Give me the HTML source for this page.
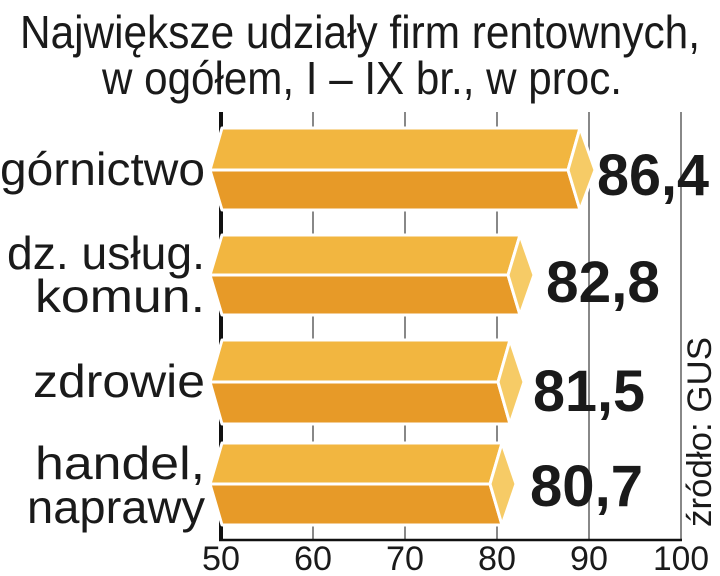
<!DOCTYPE html>
<html><head><meta charset="utf-8"><style>
html,body{margin:0;padding:0;background:#fff;}
svg{display:block;}
text{font-family:"Liberation Sans",sans-serif;fill:#1a1a1a;}
</style></head><body>
<svg width="720" height="576" viewBox="0 0 720 576" xmlns="http://www.w3.org/2000/svg">
<text x="360" y="48" font-size="46" text-anchor="middle" textLength="680" lengthAdjust="spacingAndGlyphs">Największe udziały firm rentownych,</text>
<text x="362" y="94" font-size="46" text-anchor="middle" textLength="520" lengthAdjust="spacingAndGlyphs">w ogółem, I – IX br., w proc.</text>
<g stroke="#888" stroke-width="2">
<line x1="313" y1="112" x2="313" y2="540"/><line x1="405" y1="112" x2="405" y2="540"/>
<line x1="497" y1="112" x2="497" y2="540"/><line x1="589" y1="112" x2="589" y2="540"/>
<line x1="681" y1="112" x2="681" y2="540"/>
</g>
<line x1="221" y1="112" x2="221" y2="540" stroke="#111" stroke-width="4"/>
<line x1="219" y1="540" x2="682" y2="540" stroke="#111" stroke-width="2.5"/>
<g stroke="#fff" stroke-width="3" stroke-linejoin="round">
<polygon points="222,128 580,128 568,170 210,170" fill="#f2b640"/>
<polygon points="210,170 568,170 580,210 222,210" fill="#e79a28"/>
<polygon points="580,128 595,170 580,210 568,170" fill="#f6cb66"/>
<polygon points="222,235 520,235 508,275 210,275" fill="#f2b640"/>
<polygon points="210,275 508,275 520,315 222,315" fill="#e79a28"/>
<polygon points="520,235 534,275 520,315 508,275" fill="#f6cb66"/>
<polygon points="222,340 510,340 498,382 210,382" fill="#f2b640"/>
<polygon points="210,382 498,382 510,424 222,424" fill="#e79a28"/>
<polygon points="510,340 524,382 510,424 498,382" fill="#f6cb66"/>
<polygon points="222,443 502,443 490,484 210,484" fill="#f2b640"/>
<polygon points="210,484 490,484 502,525 222,525" fill="#e79a28"/>
<polygon points="502,443 516,484 502,525 490,484" fill="#f6cb66"/>
</g>
<g font-size="46" text-anchor="end">
<text x="205" y="185" textLength="205" lengthAdjust="spacingAndGlyphs">górnictwo</text>
<text x="205" y="269" textLength="198" lengthAdjust="spacingAndGlyphs">dz. usług.</text>
<text x="205" y="312" textLength="170" lengthAdjust="spacingAndGlyphs">komun.</text>
<text x="205" y="397" textLength="172" lengthAdjust="spacingAndGlyphs">zdrowie</text>
<text x="205" y="479" textLength="170" lengthAdjust="spacingAndGlyphs">handel,</text>
<text x="205" y="523" textLength="178" lengthAdjust="spacingAndGlyphs">naprawy</text>
</g>
<g font-size="58" font-weight="bold">
<text x="597" y="195" textLength="112" lengthAdjust="spacingAndGlyphs">86,4</text>
<text x="546" y="302" textLength="114" lengthAdjust="spacingAndGlyphs">82,8</text>
<text x="533" y="411" textLength="112" lengthAdjust="spacingAndGlyphs">81,5</text>
<text x="530" y="506" textLength="113" lengthAdjust="spacingAndGlyphs">80,7</text>
</g>
<g font-size="34" text-anchor="middle">
<text x="221" y="570" textLength="38" lengthAdjust="spacingAndGlyphs">50</text><text x="313" y="570" textLength="38" lengthAdjust="spacingAndGlyphs">60</text><text x="405" y="570" textLength="38" lengthAdjust="spacingAndGlyphs">70</text>
<text x="497" y="570" textLength="38" lengthAdjust="spacingAndGlyphs">80</text><text x="589" y="570" textLength="38" lengthAdjust="spacingAndGlyphs">90</text><text x="681" y="570" textLength="56" lengthAdjust="spacingAndGlyphs">100</text>
</g>
<text transform="translate(711,432) rotate(-90)" font-size="34" text-anchor="middle" textLength="190" lengthAdjust="spacingAndGlyphs">źródło: GUS</text>
</svg>
</body></html>
